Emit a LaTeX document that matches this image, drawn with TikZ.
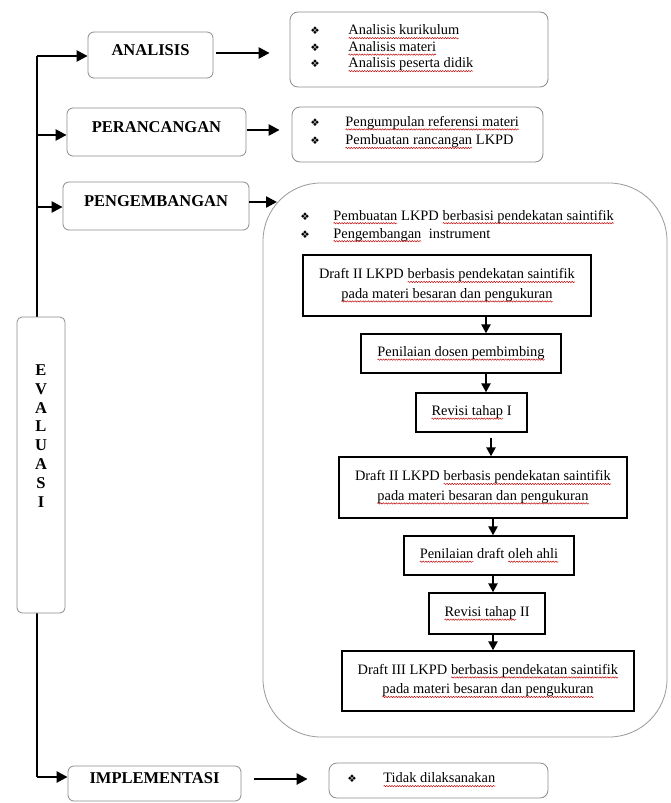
\documentclass[tikz,border=0pt]{standalone}
\usepackage{fontspec}
\setmainfont{Liberation Serif}
\newfontfamily\dejavu{DejaVu Sans}
\usetikzlibrary{arrows.meta,decorations.pathmorphing}
\newcommand\bul{\makebox[9pt][c]{\dejavu\fontsize{10.5}{10.5}\selectfont ❖}}
\newcommand\sq[1]{\tikz[baseline=(sqt.base),x=1pt,y=1pt]{%
  \node[inner sep=0pt,outer sep=0pt,draw=none,fill=none,minimum width=0pt,minimum height=0pt,
    text height=,text depth=,anchor=base,align=left] (sqt) {#1};%
  \draw[draw=red!75!black,line width=0.45pt,sharp corners,decorate,
    decoration={snake,amplitude=0.7pt,segment length=2.6pt}]
    ([yshift=-3.2pt]sqt.base west) -- ([yshift=-3.2pt]sqt.base east);}}
\begin{document}
\begin{tikzpicture}[x=1pt,y=-1pt,
  tbox/.style={draw=black!45, line width=0.8pt, rounded corners=6pt, fill=white,
    font=\fontsize{16.5}{18}\selectfont\bfseries, inner sep=0pt, text height=11pt, text depth=11pt},
  lbox/.style={draw=black!45, line width=0.8pt, rounded corners=8pt, inner sep=0pt},
  ltext/.style={anchor=west, inner sep=0pt, align=left, font=\fontsize{14.4}{17}\selectfont},
  dbox/.style={draw=black, line width=1.3pt, inner sep=0pt, align=center,
    font=\fontsize{14.4}{19.5}\selectfont, fill=white},
  arr/.style={line width=2.4pt, -{Triangle[length=11pt,width=11pt]}},
  sarr/.style={line width=2.2pt, -{Triangle[length=9pt,width=9pt]}},
]
\useasboundingbox[fill=white] (0,0) rectangle (670,803);

% spine
\coordinate (s1) at (37,56);
\coordinate (s2) at (37,135);
\coordinate (s3) at (37,207);
\coordinate (s4) at (37,777);
\draw[line width=2.6pt] (s1) -- (s4);

% left column boxes
\node[tbox, minimum width=125pt, minimum height=46pt] (ana) at (150.5,55) {ANALISIS};
\node[tbox, minimum width=179pt, minimum height=48pt] (per) at (156.5,132) {PERANCANGAN};
\node[tbox, minimum width=186pt, minimum height=48pt] (peng) at (156,206) {PENGEMBANGAN};
\node[tbox, minimum width=173pt, minimum height=35pt] (impl) at (154.5,783.5) {IMPLEMENTASI};
\node[tbox, minimum width=48pt, minimum height=296pt, rounded corners=5pt] (eva) at (41,465) {};
\node[inner sep=0pt, align=center, font=\fontsize{16.5}{18.86}\selectfont\bfseries] (evat)
  at (41,436) {E\\V\\A\\L\\U\\A\\S\\I};

% list boxes
\node[lbox, minimum width=258pt, minimum height=75pt] (alist) at (419,49.5) {};
\node[ltext, font=\fontsize{14.4}{16.5}\selectfont] (alt) at (310.5,48.5)
  {\bul\hspace{28.5pt}\sq{Analisis kurikulum}\\
   \bul\hspace{28.5pt}\sq{Analisis materi}\\
   \bul\hspace{28.5pt}\sq{Analisis peserta didik}};

\node[lbox, minimum width=251pt, minimum height=55pt] (plist) at (417.5,134.5) {};
\node[ltext, font=\fontsize{14.4}{18.5}\selectfont] (plt) at (310.5,132.5)
  {\bul\hspace{25.5pt}\sq{Pengumpulan referensi materi}\\
   \bul\hspace{25.5pt}\sq{Pembuatan rancangan} LKPD};

\node[lbox, minimum width=219pt, minimum height=35pt] (tlist) at (438.5,780.5) {};
\node[ltext] (tlt) at (347.5,780) {\bul\hspace{26.5pt}\sq{Tidak dilaksanakan}};

% big development box
\node[draw=black!40, line width=0.8pt, rounded corners=58pt, minimum width=404pt,
  minimum height=554pt, inner sep=0pt] (big) at (465,460) {};
\node[ltext, font=\fontsize{14.4}{18}\selectfont] (bigt) at (300.5,226)
  {\bul\hspace{23.5pt}\sq{Pembuatan} LKPD \sq{berbasisi pendekatan saintifik}\\
   \bul\hspace{23.5pt}\sq{Pengembangan}\ \ instrument};

% flow inside
\node[dbox, minimum width=288pt, minimum height=61pt] (d1) at (447,285.5)
  {Draft II LKPD \sq{berbasis pendekatan saintifik}\\ \sq{pada materi besaran dan pengukuran}};
\node[dbox, minimum width=200pt, minimum height=39pt] (p1) at (461,353.5)
  {\sq{Penilaian dosen pembimbing}};
\node[dbox, minimum width=111pt, minimum height=39pt] (r1) at (471.5,412.5)
  {\sq{Revisi tahap} I};
\node[dbox, minimum width=288pt, minimum height=61pt] (d2) at (483,487.5)
  {Draft II LKPD \sq{berbasis pendekatan saintifik}\\ \sq{pada materi besaran dan pengukuran}};
\node[dbox, minimum width=170pt, minimum height=39pt] (p2) at (489,555.5)
  {\sq{Penilaian} draft \sq{oleh ahli}};
\node[dbox, minimum width=116pt, minimum height=41pt] (r2) at (487,613.5)
  {\sq{Revisi tahap} II};
\node[dbox, minimum width=292pt, minimum height=60pt] (d3) at (488,681)
  {Draft III LKPD \sq{berbasis pendekatan saintifik}\\ \sq{pada materi besaran dan pengukuran}};

\coordinate (ax1) at (486,0);
\coordinate (ax2) at (491,0);
\coordinate (ax3) at (493,0);
\draw[sarr] (d1.south -| ax1) -- (p1.north -| ax1);
\draw[sarr] (p1.south -| ax1) -- (r1.north -| ax1);
\draw[sarr, shorten <=5pt] (r1.south -| ax2) -- (d2.north -| ax2);
\draw[sarr] (d2.south -| ax3) -- (p2.north -| ax3);
\draw[sarr] (p2.south -| ax3) -- (r2.north -| ax3);
\draw[sarr] (r2.south -| ax3) -- (d3.north -| ax3);

% spine arrows
\draw[arr] (s1) -- (s1 -| ana.west);
\draw[arr] (s2) -- (s2 -| per.west);
\draw[arr] (s3) -- (s3 -| peng.west);
\draw[arr] (s4) -- (s4 -| impl.west);

% outgoing arrows
\coordinate (pe) at (277,202);
\draw[arr, shorten <=3pt, shorten >=20pt] ([yshift=2pt]ana.east) -- ([yshift=-3.5pt]alist.west);
\draw[arr, shorten <=1pt, shorten >=12pt] ([yshift=2pt]per.east) -- ([yshift=4.5pt]plist.west);
\draw[arr] ([yshift=4pt]peng.east) -- (pe);
\draw[arr, shorten <=13pt, shorten >=21pt] ([yshift=4.5pt]impl.east) -- ([yshift=1.5pt]tlist.west);
\end{tikzpicture}
\end{document}
